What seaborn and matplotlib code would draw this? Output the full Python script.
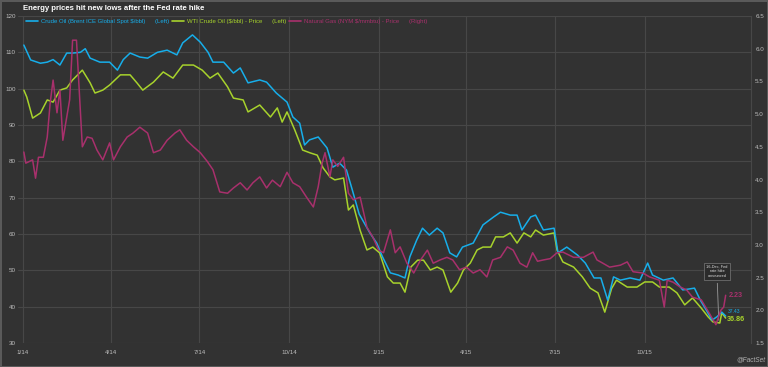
import pandas as pd
import seaborn as sns
import matplotlib.pyplot as plt
from matplotlib.lines import Line2D

# Brent (left axis, $/bbl)
brent_dates = ["2014-01-02", "2014-01-09", "2014-01-19", "2014-01-26", "2014-02-01", "2014-02-08",
               "2014-02-15", "2014-02-21", "2014-03-01", "2014-03-06", "2014-03-11", "2014-03-21",
               "2014-03-31", "2014-04-08", "2014-04-14", "2014-04-21", "2014-05-01", "2014-05-09",
               "2014-05-19", "2014-05-29", "2014-06-08", "2014-06-14", "2014-06-24", "2014-07-02",
               "2014-07-10", "2014-07-15", "2014-07-26", "2014-08-05", "2014-08-12", "2014-08-20",
               "2014-09-01", "2014-09-08", "2014-09-18", "2014-09-29", "2014-10-05", "2014-10-12",
               "2014-10-17", "2014-10-22", "2014-10-31", "2014-11-09", "2014-11-15", "2014-11-22",
               "2014-11-29", "2014-12-05", "2014-12-12", "2014-12-23", "2014-12-30", "2015-01-05",
               "2015-01-13", "2015-01-21", "2015-01-28", "2015-02-02", "2015-02-09", "2015-02-15",
               "2015-02-22", "2015-03-02", "2015-03-08", "2015-03-15", "2015-03-22", "2015-03-28",
               "2015-04-08", "2015-04-18", "2015-04-29", "2015-05-06", "2015-05-16", "2015-05-23",
               "2015-05-28", "2015-06-06", "2015-06-11", "2015-06-19", "2015-06-30", "2015-07-04",
               "2015-07-13", "2015-07-24", "2015-08-01", "2015-08-10", "2015-08-17", "2015-08-24",
               "2015-08-30", "2015-09-06", "2015-09-16", "2015-09-26", "2015-10-04", "2015-10-09",
               "2015-10-20", "2015-10-30", "2015-11-09", "2015-11-21", "2015-11-27", "2015-12-03",
               "2015-12-09", "2015-12-14", "2015-12-19", "2015-12-23"]
brent_vals = [112.0, 107.9, 107.0, 107.3, 108.0, 106.5, 109.8, 109.8, 110.0, 111.0, 108.4, 107.3,
              107.3, 105.1, 108.0, 109.8, 108.7, 108.4, 110.0, 110.6, 109.3, 112.6, 114.8, 112.8,
              110.0, 107.3, 107.3, 104.3, 105.7, 101.6, 102.4, 101.8, 98.8, 96.3, 92.2, 90.5,
              84.5, 85.9, 86.7, 83.7, 78.4, 79.5, 77.6, 72.1, 65.5, 60.3, 57.5, 53.7,
              49.3, 48.7, 47.9, 53.7, 58.3, 61.6, 59.7, 61.6, 60.3, 54.8, 53.7, 56.4,
              57.5, 62.5, 64.7, 66.0, 65.2, 65.2, 61.1, 64.7, 65.2, 61.1, 61.6, 54.8,
              56.4, 54.2, 52.0, 47.9, 47.9, 41.8, 48.2, 47.3, 47.9, 47.3, 52.0, 48.7,
              47.3, 47.9, 44.6, 45.1, 41.8, 39.1, 36.3, 37.2, 38.5, 37.43]

# WTI (left axis, $/bbl)
wti_dates = ["2014-01-02", "2014-01-05", "2014-01-11", "2014-01-19", "2014-01-26", "2014-02-01",
             "2014-02-08", "2014-02-15", "2014-02-21", "2014-03-03", "2014-03-11", "2014-03-16",
             "2014-03-24", "2014-03-31", "2014-04-11", "2014-04-21", "2014-04-28", "2014-05-04",
             "2014-05-15", "2014-05-25", "2014-06-04", "2014-06-14", "2014-06-25", "2014-07-04",
             "2014-07-12", "2014-07-20", "2014-07-30", "2014-08-05", "2014-08-15", "2014-08-20",
             "2014-09-01", "2014-09-12", "2014-09-19", "2014-09-24", "2014-09-29", "2014-10-07",
             "2014-10-15", "2014-10-23", "2014-10-30", "2014-11-05", "2014-11-12", "2014-11-17",
             "2014-11-26", "2014-12-01", "2014-12-06", "2014-12-13", "2014-12-20", "2014-12-26",
             "2015-01-02", "2015-01-10", "2015-01-16", "2015-01-23", "2015-01-28", "2015-02-03",
             "2015-02-10", "2015-02-16", "2015-02-23", "2015-03-02", "2015-03-08", "2015-03-16",
             "2015-03-23", "2015-03-29", "2015-04-05", "2015-04-12", "2015-04-18", "2015-04-26",
             "2015-05-01", "2015-05-09", "2015-05-16", "2015-05-23", "2015-05-30", "2015-06-06",
             "2015-06-11", "2015-06-19", "2015-06-30", "2015-07-03", "2015-07-09", "2015-07-20",
             "2015-07-29", "2015-08-06", "2015-08-14", "2015-08-21", "2015-08-28", "2015-09-02",
             "2015-09-13", "2015-09-23", "2015-10-01", "2015-10-09", "2015-10-16", "2015-10-26",
             "2015-11-03", "2015-11-11", "2015-11-19", "2015-11-28", "2015-12-05", "2015-12-10",
             "2015-12-17", "2015-12-19", "2015-12-23"]
wti_vals = [99.6, 97.7, 91.9, 93.3, 96.9, 96.3, 99.6, 100.2, 102.4, 105.1, 101.6, 98.8,
            99.6, 101.0, 103.8, 103.8, 101.6, 99.6, 101.8, 104.6, 102.9, 106.5, 106.5, 105.1,
            102.9, 104.3, 100.5, 97.4, 96.9, 93.6, 95.5, 92.2, 94.7, 90.8, 93.6, 88.6,
            83.1, 82.3, 81.7, 78.2, 75.7, 74.9, 75.4, 66.6, 68.0, 61.0, 55.6, 56.4,
            54.8, 48.2, 46.5, 46.5, 44.0, 50.9, 52.8, 52.8, 50.1, 50.9, 50.1, 44.0,
            46.5, 50.1, 52.0, 55.6, 56.4, 56.4, 59.2, 59.2, 60.3, 57.5, 60.3, 59.2,
            61.1, 59.7, 60.3, 55.6, 52.3, 50.9, 48.2, 45.1, 43.8, 38.5, 45.0, 47.3,
            45.4, 45.4, 46.8, 46.8, 45.4, 45.4, 43.8, 40.5, 42.4, 39.6, 37.2, 35.8,
            35.5, 38.3, 36.86]

# Natural gas (right axis, $/mmbtu)
gas_dates = ["2014-01-02", "2014-01-04", "2014-01-11", "2014-01-14", "2014-01-17", "2014-01-22",
             "2014-01-26", "2014-01-29", "2014-02-01", "2014-02-05", "2014-02-08", "2014-02-11",
             "2014-02-18", "2014-02-21", "2014-02-25", "2014-03-03", "2014-03-08", "2014-03-13",
             "2014-03-18", "2014-03-24", "2014-03-31", "2014-04-04", "2014-04-11", "2014-04-18",
             "2014-04-24", "2014-05-01", "2014-05-09", "2014-05-15", "2014-05-22", "2014-05-29",
             "2014-06-06", "2014-06-11", "2014-06-18", "2014-06-25", "2014-07-02", "2014-07-09",
             "2014-07-15", "2014-07-22", "2014-07-30", "2014-08-05", "2014-08-12", "2014-08-19",
             "2014-08-25", "2014-09-01", "2014-09-08", "2014-09-14", "2014-09-22", "2014-09-29",
             "2014-10-05", "2014-10-12", "2014-10-19", "2014-10-26", "2014-10-31", "2014-11-04",
             "2014-11-07", "2014-11-12", "2014-11-15", "2014-11-20", "2014-11-26", "2014-12-01",
             "2014-12-06", "2014-12-13", "2014-12-20", "2014-12-26", "2015-01-01", "2015-01-06",
             "2015-01-13", "2015-01-18", "2015-01-23", "2015-01-30", "2015-02-06", "2015-02-13",
             "2015-02-20", "2015-02-26", "2015-03-05", "2015-03-12", "2015-03-18", "2015-03-25",
             "2015-04-01", "2015-04-08", "2015-04-15", "2015-04-22", "2015-04-28", "2015-05-06",
             "2015-05-13", "2015-05-19", "2015-05-26", "2015-06-02", "2015-06-08", "2015-06-13",
             "2015-06-19", "2015-06-26", "2015-07-03", "2015-07-09", "2015-07-20", "2015-07-30",
             "2015-08-09", "2015-08-13", "2015-08-19", "2015-08-26", "2015-09-06", "2015-09-13",
             "2015-09-19", "2015-09-29", "2015-10-06", "2015-10-16", "2015-10-21", "2015-10-24",
             "2015-10-30", "2015-11-06", "2015-11-13", "2015-11-19", "2015-11-28", "2015-12-06",
             "2015-12-13", "2015-12-18", "2015-12-21", "2015-12-23"]
gas_vals = [4.42, 4.25, 4.30, 4.02, 4.34, 4.34, 4.65, 5.17, 5.52, 5.02, 5.37, 4.60,
            5.22, 6.13, 6.13, 4.50, 4.65, 4.63, 4.45, 4.30, 4.56, 4.30, 4.50, 4.65,
            4.71, 4.80, 4.71, 4.41, 4.45, 4.60, 4.71, 4.76, 4.60, 4.50, 4.41, 4.28,
            4.15, 3.81, 3.79, 3.87, 3.95, 3.84, 3.95, 4.04, 3.87, 3.99, 3.89, 4.11,
            3.95, 3.89, 3.73, 3.58, 3.89, 4.25, 4.41, 4.04, 4.30, 4.20, 4.34, 3.79,
            3.69, 3.73, 3.27, 3.12, 2.92, 2.88, 3.23, 2.88, 2.97, 2.72, 2.57, 2.77,
            2.92, 2.72, 2.77, 2.81, 2.77, 2.62, 2.66, 2.57, 2.62, 2.51, 2.77, 2.81,
            2.97, 2.92, 2.72, 2.66, 2.88, 2.75, 2.77, 2.79, 2.88, 2.89, 2.81, 2.81,
            2.89, 2.77, 2.72, 2.66, 2.69, 2.74, 2.59, 2.57, 2.51, 2.46, 2.05, 2.46,
            2.43, 2.36, 2.31, 2.20, 2.16, 1.96, 1.78, 2.00, 2.05, 2.23]

tick_dates = ["2014-01-01", "2014-04-01", "2014-07-01", "2014-10-01",
              "2015-01-01", "2015-04-01", "2015-07-01", "2015-10-01"]
tick_labels = ["1/14", "4/14", "7/14", "10/14", "1/15", "4/15", "7/15", "10/15"]

BRENT = "#17aeea"
WTI = "#a7d22c"
GAS = "#a8306c"
BG = "#323232"
GRID = "#474747"

sns.set_style("dark")
plt.rcParams["font.family"] = ["Liberation Sans", "DejaVu Sans"]

brent = pd.DataFrame({"date": pd.to_datetime(brent_dates), "v": brent_vals})
wti = pd.DataFrame({"date": pd.to_datetime(wti_dates), "v": wti_vals})
gas = pd.DataFrame({"date": pd.to_datetime(gas_dates), "v": gas_vals})

fig = plt.figure(figsize=(7.68, 3.67), dpi=100, facecolor=BG)
fig.patch.set_edgecolor("#5a5a5a")
fig.patch.set_linewidth(2)
ax = fig.add_axes([18 / 768, 24 / 367, (751 - 18) / 768, (343 - 16) / 367])
ax.set_facecolor(BG)
ax2 = ax.twinx()
ax2.patch.set_visible(False)

sns.lineplot(data=wti, x="date", y="v", ax=ax, color=WTI, lw=1.1)
sns.lineplot(data=brent, x="date", y="v", ax=ax, color=BRENT, lw=1.1)
sns.lineplot(data=gas, x="date", y="v", ax=ax2, color=GAS, lw=1.1)

ax.set_xlim(pd.Timestamp("2013-12-27"), pd.Timestamp("2016-01-18"))
ax.set_ylim(30, 120)
ax2.set_ylim(1.5, 6.5)
ax.set_yticks(range(30, 121, 10))
ax2.set_yticks([1.5 + 0.5 * i for i in range(11)])
ax2.set_yticklabels([f"{1.5 + 0.5 * i:.1f}" for i in range(11)])
ax.set_xticks(pd.to_datetime(tick_dates))
ax.set_xticklabels(tick_labels)
ax.set_xlabel("")
ax.set_ylabel("")
ax2.set_ylabel("")

ax.grid(True, color=GRID, lw=0.8)
ax.set_axisbelow(True)
ax2.grid(False)
for a in (ax, ax2):
    for s in a.spines.values():
        s.set_visible(False)
ax2.spines["right"].set_visible(True)
ax2.spines["right"].set_color(GRID)
ax.tick_params(axis="both", length=0, colors="#bdbdbd", labelsize=4.5)
ax.tick_params(axis="y", pad=1.5)
ax.tick_params(axis="x", pad=5)
ax2.tick_params(axis="y", length=0, colors="#bdbdbd", labelsize=4.5, pad=3)

fig.text(23 / 768, 1 - 9 / 367, "Energy prices hit new lows after the Fed rate hike",
         color="white", fontsize=5.6, fontweight="bold", va="center", ha="left")

handles = [Line2D([], [], color=BRENT, lw=1.2), Line2D([], [], color=WTI, lw=1.2),
           Line2D([], [], color=GAS, lw=1.2)]
labels = [r"Crude Oil (Brent ICE Global Spot \$/bbl)      (Left)",
          r"WTI Crude Oil (\$/bbl) - Price      (Left)",
          r"Natural Gas (NYM \$/mmbtu) - Price      (Right)"]
leg = ax2.legend(handles, labels, loc="upper left", bbox_to_anchor=(0.003, 1.008), ncol=3,
                 frameon=False, fontsize=4.3, handlelength=2.0, handletextpad=0.5,
                 columnspacing=0.5, labelcolor=[BRENT, WTI, GAS])

end = pd.Timestamp("2015-12-23")
ax2.annotate("2.23", (end, 2.23), xytext=(2, 0), textcoords="offset points",
             color=GAS, fontsize=5.2, fontweight="bold", va="center")
ax.annotate("37.43", (end, 37.43), xytext=(1.5, 3), textcoords="offset points",
            color=BRENT, fontsize=3.6, va="center")
ax.annotate("36.86", (end, 36.86), xytext=(1, -1), textcoords="offset points",
            color=WTI, fontsize=5.2, fontweight="bold", va="center")

ax.annotate("16-Dec, Fed\nrate hike\nannounced", xy=(pd.Timestamp("2015-12-16"), 35.5),
            xytext=(pd.Timestamp("2015-12-14"), 49.7), textcoords="data",
            color="#dddddd", fontsize=2.8, ha="center", va="center", linespacing=1.3,
            bbox=dict(boxstyle="square,pad=0.5", fc="#2b2b2b", ec="#7a7a7a", lw=0.5),
            arrowprops=dict(arrowstyle="-", color="#9a9a9a", lw=0.6))

fig.text(765 / 768, 1 - 360 / 367, "@FactSet", color="#b0b0b0", fontsize=4.7,
         fontstyle="italic", ha="right", va="center")

fig.savefig("out.png", dpi=100, facecolor=fig.get_facecolor())
